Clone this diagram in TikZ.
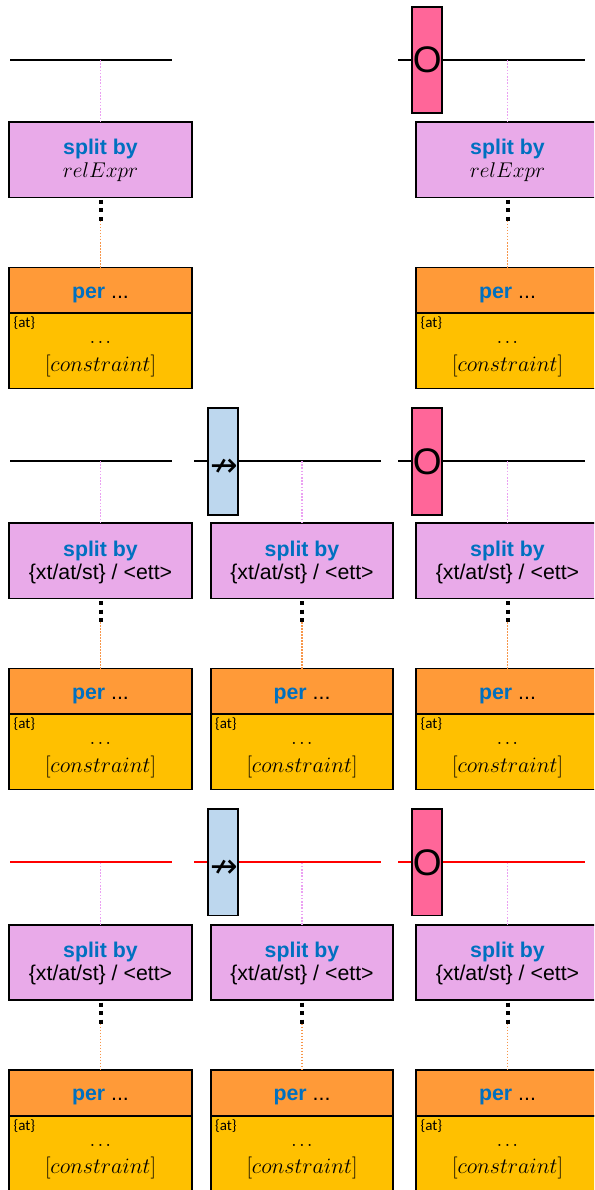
\documentclass[tikz,border=0pt]{standalone}
\usepackage{fix-cm}
\usepackage{fontspec}
\setmainfont{Liberation Sans}
\newfontfamily\calfont{Carlito}
\newfontfamily\djfont{DejaVu Sans}
\usetikzlibrary{calc}
\definecolor{splitc}{HTML}{E9AAE9}
\definecolor{pertop}{HTML}{FF9A38}
\definecolor{perbot}{HTML}{FFC000}
\definecolor{bluet}{HTML}{0070C0}
\definecolor{pinkbox}{HTML}{FF6699}
\definecolor{bluebox}{HTML}{BDD7EE}
\definecolor{dotviolet}{HTML}{EBA0F2}
\definecolor{dotorange}{HTML}{F7964A}
\newcommand\bfont{\fontsize{21.3}{25}\selectfont}
\tikzset{
 box/.style={draw=black, line width=1.8pt, minimum width=182.5pt, inner sep=0pt, outer sep=0pt},
 splitbox/.style={box, fill=splitc, minimum height=75.5pt},
 topbox/.style={box, fill=pertop, minimum height=45.5pt},
 botbox/.style={box, fill=perbot, minimum height=75.5pt},
 obox/.style={draw=black, line width=1.8pt, fill=pinkbox, minimum width=30pt, minimum height=106.5pt, inner sep=0pt, font=\fontsize{37}{37}\selectfont},
 nbox/.style={draw=black, line width=1.8pt, fill=bluebox, minimum width=30.6pt, minimum height=106.5pt, inner sep=0pt},
 hline/.style={line width=1.8pt, draw=black},
 rline/.style={line width=1.8pt, draw=red},
 vdot/.style={draw=dotviolet, line width=1.6pt, dash pattern=on 1.6pt off 1.6pt},
 odot/.style={draw=dotorange, line width=1.5pt, dash pattern=on 1.5pt off 1.5pt},
 kdots/.style={draw=black, line width=4pt, dash pattern=on 4pt off 4.5pt},
 txt/.style={anchor=base, inner sep=0pt, outer sep=0pt},
 arrtxt/.style={inner sep=0pt, outer sep=0pt, font=\djfont\fontsize{33}{33}\selectfont},
}
\newcommand\mydots{$.\mkern1.8mu.\mkern1.8mu.$}
% #1 id, #2 centre x, #3 row offset, #4 second line of split box
\newcommand\drawunit[4]{%
 \coordinate (lc#1) at (#2,#3+60);
 \node[splitbox] (split#1) at (#2,#3+159.75) {};
 \node[txt, font=\bfont\bfseries, text=bluet] (sa#1) at (#2,#3+155) {split by};
 \node[txt, font=\bfont] (sb#1) at (#2,#3+178) {#4};
 \node[topbox] (perA#1) at (#2,#3+290.25) {};
 \node[txt, font=\bfont] (pt#1) at (#2,#3+298) {\textbf{\color{bluet}per} ...};
 \node[botbox] (perB#1) at (#2,#3+350.75) {};
 \node[anchor=base west, inner sep=0pt, font=\calfont\fontsize{15}{15}\selectfont] (at#1) at (#2-87,#3+327.5) {\{at\}};
 \node[txt, font=\bfont] (el#1) at (#2,#3+343.5) {\mydots};
 \node[txt, font=\fontsize{22}{24}\selectfont] (co#1) at (#2,#3+371) {$[constraint]$};
 \coordinate (mid#1) at (#2,#3+221);
 \draw[vdot] (lc#1) -- (split#1.north);
 \draw[kdots] ([yshift=-2.5pt]split#1.south) -- (mid#1);
 \draw[odot] (mid#1) -- (perA#1.north);
}
\begin{document}
\begin{tikzpicture}[x=1pt,y=-1pt]
\useasboundingbox (0,0) rectangle (594,1190);
\clip (0,0) rectangle (594,1190);
% ---------- row 1
\coordinate (h1a) at (10,60); \coordinate (h1b) at (172,60);
\coordinate (h1e) at (398,60); \coordinate (h1f) at (585,60);
\draw[hline] (h1a) -- (h1b);
\draw[hline] (h1e) -- (h1f);
\node[obox] (o1) at (427.3,60) {O};
\drawunit{a1}{100.5}{0}{$relExpr$}
\drawunit{c1}{507.5}{0}{$relExpr$}
% ---------- row 2
\coordinate (h2a) at (10,461); \coordinate (h2b) at (172,461);
\coordinate (h2c) at (194,461); \coordinate (h2d) at (381,461);
\coordinate (h2e) at (398,461); \coordinate (h2f) at (585,461);
\draw[hline] (h2a) -- (h2b);
\draw[hline] (h2c) -- (h2d);
\draw[hline] (h2e) -- (h2f);
\node[nbox] (n2) at (223,461.5) {};
\node[arrtxt] (arr2) at (224,467.5) {↛};
\node[obox] (o2) at (427.3,461.5) {O};
\drawunit{a2}{100.5}{401}{\{xt/at/st\} / <ett>}
\drawunit{b2}{302}{401}{\{xt/at/st\} / <ett>}
\drawunit{c2}{507.5}{401}{\{xt/at/st\} / <ett>}
% ---------- row 3
\coordinate (h3a) at (10,862); \coordinate (h3b) at (172,862);
\coordinate (h3c) at (194,862); \coordinate (h3d) at (381,862);
\coordinate (h3e) at (398,862); \coordinate (h3f) at (585,862);
\draw[rline] (h3a) -- (h3b);
\draw[rline] (h3c) -- (h3d);
\draw[rline] (h3e) -- (h3f);
\node[nbox] (n3) at (223,862.3) {};
\node[arrtxt] (arr3) at (224,868.5) {↛};
\node[obox] (o3) at (427.3,862.3) {O};
\drawunit{a3}{100.5}{802.6}{\{xt/at/st\} / <ett>}
\drawunit{b3}{302}{802.6}{\{xt/at/st\} / <ett>}
\drawunit{c3}{507.5}{802.6}{\{xt/at/st\} / <ett>}
\end{tikzpicture}
\end{document}
